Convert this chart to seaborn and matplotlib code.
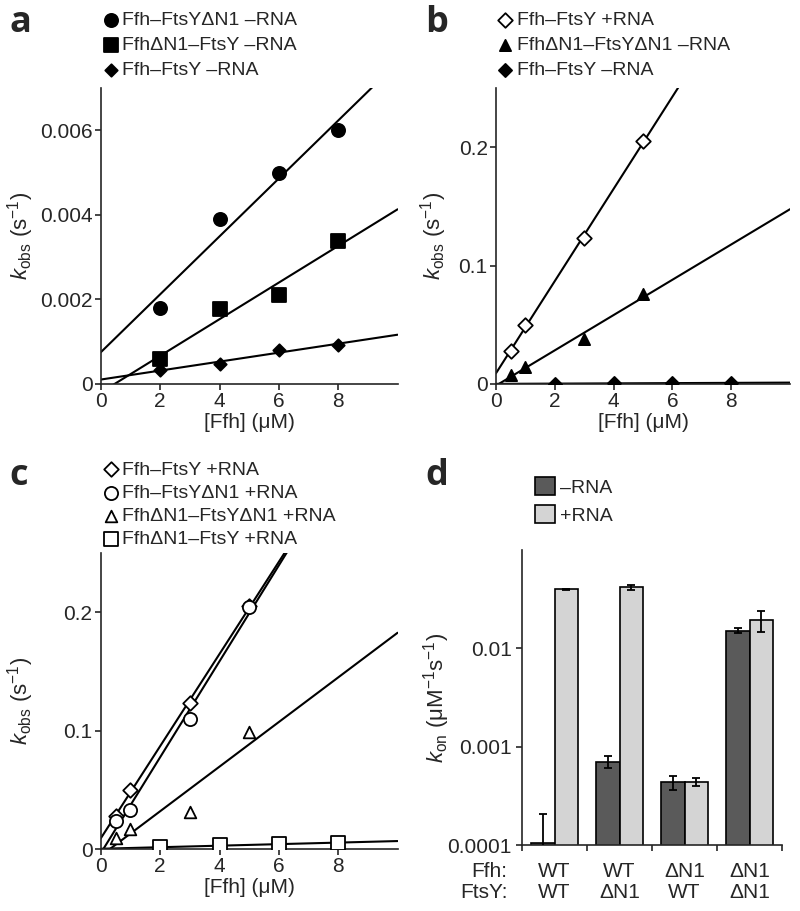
import numpy as np
import pandas as pd
import matplotlib
matplotlib.use("Agg")
import matplotlib.pyplot as plt
import seaborn as sns

# ---- data ----
# panel a (-RNA): [Ffh] in uM, kobs in 1/s
conc_a = [2, 4, 6, 8]
a_ffh_ftsydn1 = [0.0018, 0.0039, 0.0050, 0.0060]
a_ffhdn1_ftsy = [0.0006, 0.00178, 0.0021, 0.00338]
a_ffh_ftsy = [0.00033, 0.00048, 0.0008, 0.00093]

# panel b
conc_plus = [0.5, 1, 3, 5]
b_ffh_ftsy_plus = [0.028, 0.050, 0.123, 0.205]
b_dn1_dn1_minus = [0.008, 0.014, 0.038, 0.076]
conc_b_minus = [2, 4, 6, 8]
b_ffh_ftsy_minus = [0.00033, 0.00048, 0.0008, 0.00093]

# panel c (+RNA)
conc_c_sq = [2, 4, 6, 8]
c_ffh_ftsy = [0.028, 0.050, 0.123, 0.205]
c_ffh_ftsydn1 = [0.024, 0.033, 0.110, 0.204]
c_dn1_dn1 = [0.009, 0.017, 0.031, 0.099]
c_ffhdn1_ftsy = [0.0015, 0.003, 0.004, 0.0055]

# panel d: kon (1/uM/s)
ffh_labels = ["WT", "WT", "ΔN1", "ΔN1"]
ftsy_labels = ["WT", "ΔN1", "WT", "ΔN1"]
kon_minus = [0.000106, 0.000705, 0.000434, 0.01515]
kon_minus_err = [0.0001, 0.0001, 0.00007, 0.001]
kon_plus = [0.0399, 0.0415, 0.000441, 0.0194]
kon_plus_err = [0.0005, 0.0025, 0.00004, 0.0048]

# ---- style ----
sns.set_style("ticks")
plt.rcParams["font.family"] = ["Liberation Sans", "DejaVu Sans"]
plt.rcParams["mathtext.fontset"] = "custom"
plt.rcParams["mathtext.rm"] = "Liberation Sans"
plt.rcParams["mathtext.it"] = "Liberation Sans:italic"
plt.rcParams["axes.linewidth"] = 1.2
plt.rcParams["xtick.major.width"] = 1.2
plt.rcParams["ytick.major.width"] = 1.2
plt.rcParams["xtick.major.size"] = 4
plt.rcParams["ytick.major.size"] = 4
FS = 15     # ticks / axis labels
LFS = 14    # legends

fig = plt.figure(figsize=(8, 9.11), dpi=100)
ax_a = fig.add_axes([0.126, 0.5785, 0.371, 0.325])
ax_b = fig.add_axes([0.620, 0.5785, 0.3675, 0.325])
ax_c = fig.add_axes([0.126, 0.068, 0.371, 0.325])
ax_d = fig.add_axes([0.6525, 0.0724, 0.325, 0.324])

KOBS = r"$k_{\mathrm{obs}}$ (s$^{-1}$)"


def kinetics_panel(ax, series, ymax, yticks, yticklabels, legend_xy, spacing, ylab_x):
    ax.set_xlim(0, 10)
    ax.set_ylim(0, ymax)
    for x, y, label, marker, face, size in series:
        x = np.asarray(x, float)
        y = np.asarray(y, float)
        sns.regplot(x=x, y=y, ax=ax, scatter=False, ci=None, truncate=False,
                    line_kws=dict(color="k", lw=1.5, zorder=2))
        sns.scatterplot(x=x, y=y, ax=ax, marker=marker, s=size, color=face,
                        edgecolor="k", linewidth=1.3, zorder=3, label=label)
    ax.set_xlim(0, 10)
    ax.set_ylim(0, ymax)
    ax.set_xticks([0, 2, 4, 6, 8])
    ax.set_yticks(yticks)
    ax.set_yticklabels(yticklabels)
    ax.tick_params(labelsize=FS, pad=2)
    ax.set_xlabel("[Ffh] (μM)", fontsize=FS, labelpad=1)
    ax.set_ylabel(KOBS, fontsize=16)
    ax.yaxis.set_label_coords(ylab_x, 0.5)
    sns.despine(ax=ax)
    ax.legend(loc="upper left", bbox_to_anchor=legend_xy, bbox_transform=fig.transFigure,
              frameon=False, fontsize=LFS, borderpad=0, handletextpad=0.1,
              labelspacing=spacing, handlelength=1.0, borderaxespad=0)


kinetics_panel(ax_a, [
    (conc_a, a_ffh_ftsydn1, "Ffh–FtsYΔN1 –RNA", "o", "k", 90),
    (conc_a, a_ffhdn1_ftsy, "FfhΔN1–FtsY –RNA", "s", "k", 110),
    (conc_a, a_ffh_ftsy, "Ffh–FtsY –RNA", "D", "k", 40),
], 0.007, [0, 0.002, 0.004, 0.006], ["0", "0.002", "0.004", "0.006"],
    (0.126, 0.987), 0.38, -0.22)

kinetics_panel(ax_b, [
    (conc_plus, b_ffh_ftsy_plus, "Ffh–FtsY +RNA", "D", "w", 55),
    (conc_plus, b_dn1_dn1_minus, "FfhΔN1–FtsYΔN1 –RNA", "^", "k", 65),
    (conc_b_minus, b_ffh_ftsy_minus, "Ffh–FtsY –RNA", "D", "k", 45),
], 0.25, [0, 0.1, 0.2], ["0", "0.1", "0.2"],
    (0.619, 0.987), 0.38, -0.16)

kinetics_panel(ax_c, [
    (conc_plus, c_ffh_ftsy, "Ffh–FtsY +RNA", "D", "w", 55),
    (conc_plus, c_ffh_ftsydn1, "Ffh–FtsYΔN1 +RNA", "o", "w", 90),
    (conc_plus, c_dn1_dn1, "FfhΔN1–FtsYΔN1 +RNA", "^", "w", 70),
    (conc_c_sq, c_ffhdn1_ftsy, "FfhΔN1–FtsY +RNA", "s", "w", 95),
], 0.25, [0, 0.1, 0.2], ["0", "0.1", "0.2"],
    (0.126, 0.494), 0.29, -0.22)

# ---- panel d ----
groups = [f"{f}\n{y}" for f, y in zip(ffh_labels, ftsy_labels)]
df = pd.DataFrame({
    "group": groups * 2,
    "rna": ["–RNA"] * 4 + ["+RNA"] * 4,
    "kon": kon_minus + kon_plus,
})
ax_d.set_yscale("log")
sns.barplot(data=df, x="group", y="kon", hue="rna", order=groups,
            hue_order=["–RNA", "+RNA"], palette=["#5a5a5a", "#d4d4d4"],
            edgecolor="k", linewidth=1.2, width=0.72, errorbar=None, ax=ax_d)
for cont, err in zip(ax_d.containers, [kon_minus_err, kon_plus_err]):
    xs = [p.get_x() + p.get_width() / 2 for p in cont.patches]
    ys = [p.get_height() for p in cont.patches]
    ax_d.errorbar(xs, ys, yerr=err, fmt="none", ecolor="k", elinewidth=1.3,
                  capsize=3, capthick=1.3, zorder=4)
ax_d.set_ylim(1e-4, 1e-1)
ax_d.set_xlim(-0.5, 3.5)
ax_d.set_yticks([1e-4, 1e-3, 1e-2])
ax_d.set_yticklabels(["0.0001", "0.001", "0.01"])
ax_d.yaxis.set_minor_locator(matplotlib.ticker.NullLocator())
ax_d.set_xticks([-0.5, 0.5, 1.5, 2.5, 3.5], minor=True)
ax_d.tick_params(axis="x", which="major", length=0, pad=12)
ax_d.tick_params(axis="x", which="minor", length=4, width=1.2, direction="out")
ax_d.tick_params(labelsize=FS)
for lbl in ax_d.get_xticklabels():
    lbl.set_linespacing(1.15)
ax_d.text(-0.055, -0.057, "Ffh:\nFtsY:", transform=ax_d.transAxes, ha="right",
          va="top", fontsize=FS, linespacing=1.15)
ax_d.set_xlabel("")
ax_d.set_ylabel(r"$k_{\mathrm{on}}$ (μM$^{-1}$s$^{-1}$)", fontsize=16)
ax_d.yaxis.set_label_coords(-0.27, 0.5)
sns.despine(ax=ax_d)
ax_d.legend(loc="upper left", bbox_to_anchor=(0.669, 0.476), bbox_transform=fig.transFigure,
            frameon=False, fontsize=LFS, borderpad=0, handletextpad=0.25,
            labelspacing=0.45, handlelength=1.0, handleheight=1.0, borderaxespad=0)

# panel letters
for letter, x, y in [("a", 0.012, 0.995), ("b", 0.532, 0.995),
                     ("c", 0.012, 0.497), ("d", 0.532, 0.497)]:
    fig.text(x, y, letter, fontsize=26, fontweight="bold", family="Open Sans",
             ha="left", va="top")

fig.savefig("out.png", dpi=100)
